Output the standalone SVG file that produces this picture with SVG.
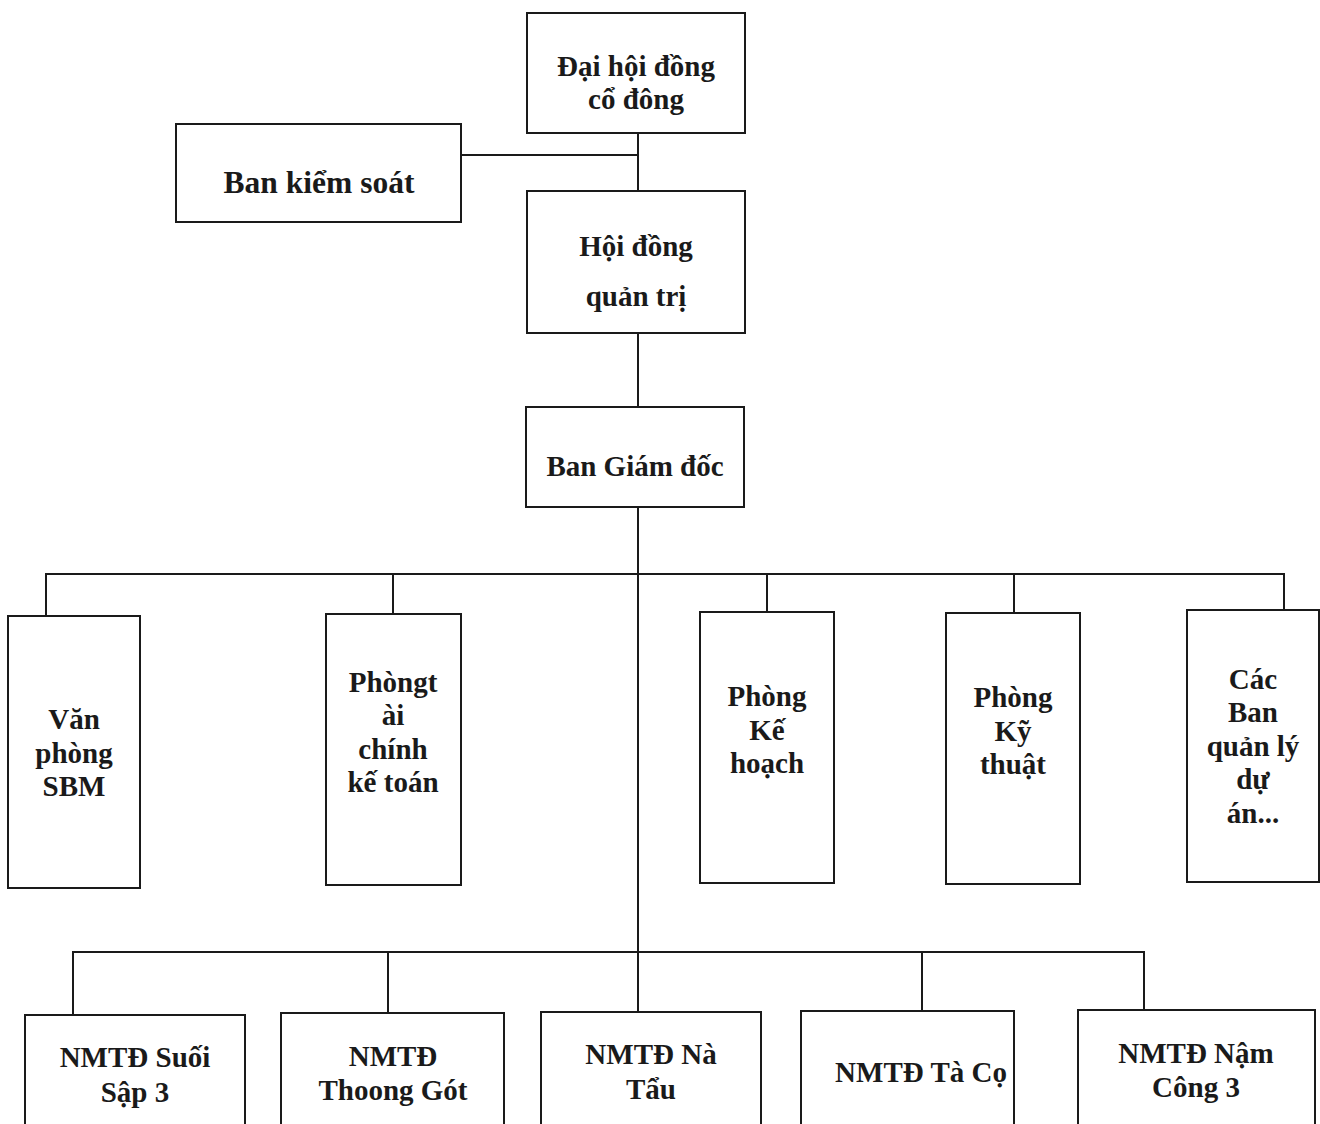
<svg xmlns="http://www.w3.org/2000/svg" width="1320" height="1124" viewBox="0 0 1320 1124">
<style>
.box{fill:#fff;stroke:#1a1a1a;stroke-width:2}
.ln{fill:none;stroke:#1a1a1a;stroke-width:2}
text{font-family:"Liberation Serif","Times New Roman",serif;font-weight:bold;font-size:29px;fill:#1a1a1a;text-anchor:middle}
.big{font-size:31.5px}
</style>
<rect width="1320" height="1124" fill="#fff"/>
<g id="connectors">
<path class="ln" d="M638 133V191M461 155H638M638 333V407M638 507V950"/>
<path class="ln" d="M46 616V574H1284V610M393 574V614M767 574V612M1014 574V613"/>
<path class="ln" d="M73 1015V952H1144V1010M388 952V1013M638 950V1012M922 952V1011"/>
</g>
<g id="n_daihoi"><rect class="box" x="527" y="13" width="218" height="120"/><text x="636" y="76">Đại hội đồng</text><text x="636" y="109">cổ đông</text></g>
<g id="n_bks"><rect class="box" x="176" y="124" width="285" height="98"/><text class="big" x="319" y="193">Ban kiểm soát</text></g>
<g id="n_hdqt"><rect class="box" x="527" y="191" width="218" height="142"/><text x="636" y="256">Hội đồng</text><text x="636" y="306">quản trị</text></g>
<g id="n_bgd"><rect class="box" x="526" y="407" width="218" height="100"/><text x="635" y="476">Ban Giám đốc</text></g>
<g id="n_vp"><rect class="box" x="8" y="616" width="132" height="272"/><text x="74" y="729">Văn</text><text x="74" y="763">phòng</text><text x="74" y="796">SBM</text></g>
<g id="n_tckt"><rect class="box" x="326" y="614" width="135" height="271"/><text x="393" y="692">Phòngt</text><text x="393" y="725">ài</text><text x="393" y="759">chính</text><text x="393" y="792">kế toán</text></g>
<g id="n_kh"><rect class="box" x="700" y="612" width="134" height="271"/><text x="767" y="706">Phòng</text><text x="767" y="740">Kế</text><text x="767" y="773">hoạch</text></g>
<g id="n_kt"><rect class="box" x="946" y="613" width="134" height="271"/><text x="1013" y="707">Phòng</text><text x="1013" y="741">Kỹ</text><text x="1013" y="774">thuật</text></g>
<g id="n_bql"><rect class="box" x="1187" y="610" width="132" height="272"/><text x="1253" y="689">Các</text><text x="1253" y="722">Ban</text><text x="1253" y="756">quản lý</text><text x="1253" y="789">dự</text><text x="1253" y="823">án...</text></g>
<g id="n_ss3"><rect class="box" x="25" y="1015" width="220" height="130"/><text x="135" y="1067">NMTĐ Suối</text><text x="135" y="1102">Sập 3</text></g>
<g id="n_tg"><rect class="box" x="281" y="1013" width="223" height="130"/><text x="393" y="1066">NMTĐ</text><text x="393" y="1100">Thoong Gót</text></g>
<g id="n_nt"><rect class="box" x="541" y="1012" width="220" height="130"/><text x="651" y="1064">NMTĐ Nà</text><text x="651" y="1099">Tẩu</text></g>
<g id="n_tc"><rect class="box" x="801" y="1011" width="213" height="130"/><text x="921" y="1082">NMTĐ Tà Cọ</text></g>
<g id="n_nc3"><rect class="box" x="1078" y="1010" width="237" height="130"/><text x="1196" y="1063">NMTĐ Nậm</text><text x="1196" y="1097">Công 3</text></g>
</svg>
